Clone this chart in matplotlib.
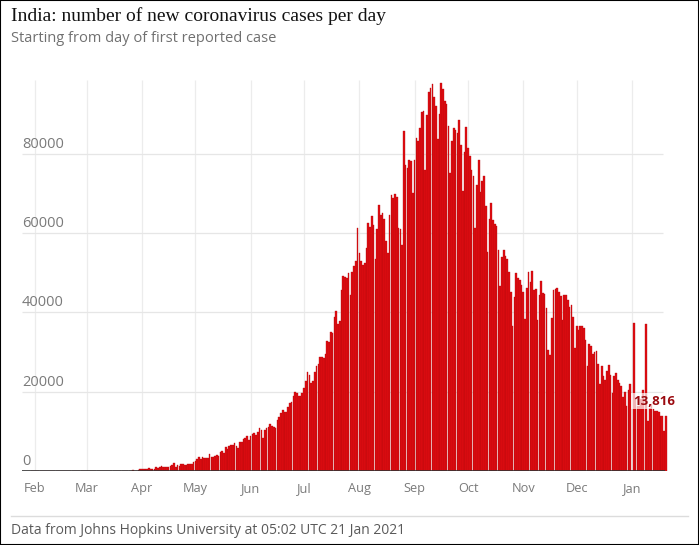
import matplotlib
matplotlib.use("Agg")
import matplotlib.pyplot as plt
import matplotlib.dates as mdates
import numpy as np
import pandas as pd
from matplotlib.lines import Line2D
from matplotlib.patches import Rectangle

# Daily new cases, India (JHU), 30 Jan 2020 - 20 Jan 2021
jan_2020 = [1, 0]
feb_2020 = [0, 1, 1, 0, 0, 0, 0, 0, 0, 0, 0, 0, 0, 0, 0, 0, 0, 0, 0, 0,
            0, 0, 0, 0, 0, 0, 0, 0, 0]
mar_2020 = [0, 2, 0, 23, 2, 1, 3, 5, 4, 6, 6, 11, 9, 20, 11, 6, 23, 14, 38, 50,
            86, 66, 103, 37, 121, 70, 160, 100, 78, 224, 601]
apr_2020 = [545, 478, 525, 505, 704, 508, 485, 591, 896, 768, 918, 1207, 1043, 1035, 1076,
            1007, 1334, 1553, 1893, 924, 1541, 1290, 1707, 1835, 1607, 1561, 1873, 1738, 1801, 2396]
may_2020 = [2564, 2952, 3656, 2971, 3602, 3344, 3339, 3175, 4311, 3592, 3562, 3726, 3991, 3808, 4794,
            5049, 4630, 6147, 5553, 6198, 6568, 6629, 7111, 6414, 5843, 7293, 7300, 8105, 8336, 8782, 7761]
jun_2020 = [8800, 9300, 9700, 9100, 9900, 10800, 10300, 8400, 10300, 10800, 11200, 11900, 11400, 11200, 10800,
            12900, 13700, 14700, 15400, 15000, 15000, 16200, 17100, 17500, 18800, 20000, 19600, 18800, 18900, 19600]
jul_2020 = [20903, 22771, 24850, 24248, 22252, 22752, 24879, 26506, 27114, 28637, 28701, 28498, 29429, 32695, 32607,
            34956, 34884, 38902, 40425, 37148, 37724, 45720, 49310, 48916, 48661, 49931, 44400, 50300, 51600, 52900, 61300]
aug_2020 = [55000, 53100, 52000, 52500, 56300, 62500, 61500, 64400, 62100, 53600, 61000, 67000, 64600, 65000, 63500,
            58000, 55100, 64500, 69700, 68900, 69900, 69200, 61400, 61000, 57100, 85700, 77300, 76400, 78500, 78300, 70100]
sep_2020 = [78357, 83883, 83341, 86432, 90632, 90802, 75809, 89706, 95735, 96551, 97570, 94372, 92071, 83809, 90123,
            97894, 96424, 93337, 92605, 86961, 75083, 83347, 86508, 86052, 85362, 88600, 82170, 70589, 80472, 86821]
oct_2020 = [81484, 79476, 75829, 74442, 61267, 72049, 78524, 70496, 73272, 74383, 66732, 55342, 63509, 67708, 63371,
            62212, 61871, 55722, 46790, 54044, 55839, 54350, 53370, 50129, 45148, 36470, 43893, 49881, 48648, 48268, 46963]
nov_2020 = [45231, 38310, 46253, 50210, 47638, 50357, 45674, 45903, 38073, 44281, 47905, 44879, 44684, 41100, 30548,
            29163, 38617, 45576, 45882, 46232, 45209, 44059, 37975, 44376, 44489, 43082, 41322, 41810, 38772, 31118]
dec_2020 = [36604, 35551, 36594, 36652, 36011, 32981, 26567, 32080, 31522, 29398, 30006, 30254, 27071, 22065, 26382,
            24010, 22890, 25152, 26624, 24337, 19556, 23950, 24712, 23067, 22272, 21500, 18732, 20021, 16432, 20549, 21822]
jan_2021 = [0, 37300, 18177, 16505, 16375, 18088, 20346, 0, 37200, 12584, 15968, 16946, 15590, 15158, 15144,
            14800, 13900, 13788, 10064, 13816]

cases = (jan_2020 + feb_2020 + mar_2020 + apr_2020 + may_2020 + jun_2020 + jul_2020 +
         aug_2020 + sep_2020 + oct_2020 + nov_2020 + dec_2020 + jan_2021)
dates = pd.date_range("2020-01-30", periods=len(cases), freq="D")

month_labels = ["Feb", "Mar", "Apr", "May", "Jun", "Jul", "Aug", "Sep", "Oct", "Nov", "Dec", "Jan"]
month_starts = pd.date_range("2020-02-01", periods=12, freq="MS")
y_ticks = [0, 20000, 40000, 60000, 80000]

W, H = 699, 545
fig = plt.figure(figsize=(W / 100, H / 100), dpi=100)
ax = fig.add_axes([22 / W, (H - 471) / H, (668 - 22) / W, (471 - 80) / H])

feb1 = mdates.date2num(pd.Timestamp("2020-02-01"))
px_day = 597 / 335.0
x_left = feb1 - 13 / px_day
x_right = feb1 + 633 / px_day
x_grid_end = feb1 + 628 / px_day
y_top = 391.5 / 3.969 * 1000

ax.bar(dates, cases, width=0.92, color="#e00c12", edgecolor="#b30a0c", linewidth=0.25, zorder=2)

ax.vlines(month_starts, 0, y_top, color="#ececec", lw=0.9, zorder=0)
ax.hlines(y_ticks[1:], x_left, x_grid_end, color="#e6e6e6", lw=0.9, zorder=0)
ax.hlines(0, x_left, x_grid_end + 1, color="#333333", lw=1.2, zorder=3)

for v in y_ticks:
    ax.annotate(str(v), xy=(x_left, v), xytext=(0, 6), textcoords="offset pixels",
                ha="left", va="baseline", color="#7a7a7a", fontsize=10.5, family="Open Sans")

ax.set_xlim(x_left, x_right)
ax.set_ylim(0, y_top)
ax.set_xticks(month_starts)
ax.set_xticklabels(month_labels, color="#7a7a7a", fontsize=9.2, family="Open Sans")
ax.tick_params(axis="x", length=0, pad=8)
ax.set_yticks([])
for s in ax.spines.values():
    s.set_visible(False)
ax.patch.set_alpha(0)

# label for the latest value
ax.annotate(f"{cases[-1]:,}", xy=(dates[-1], cases[-1]), xytext=(-12, 15), textcoords="offset pixels",
            ha="center", va="center", color="#9b0a0f", fontsize=9.5, fontweight="bold", family="Open Sans",
            bbox=dict(boxstyle="square,pad=0.12", facecolor="white", edgecolor="none", alpha=0.7), zorder=5)

fig.text(11 / W, 1 - 16 / H, "India: number of new coronavirus cases per day",
         ha="left", va="center", fontsize=14, family="Liberation Serif", color="#121212")
fig.text(11 / W, 1 - 38 / H, "Starting from day of first reported case",
         ha="left", va="center", fontsize=10.5, family="Open Sans", color="#707070")

fig.add_artist(Line2D([11 / W, 688 / W], [1 - 516 / H, 1 - 516 / H], color="#dcdcdc", lw=1))
fig.text(11 / W, 1 - 531 / H, "Data from Johns Hopkins University at 05:02 UTC 21 Jan 2021",
         ha="left", va="center", fontsize=10, family="Open Sans", color="#5a5a5a")

fig.add_artist(Rectangle((0, 0), 1, 1, transform=fig.transFigure, fill=False, edgecolor="black", lw=1.5))

fig.savefig("out.png", dpi=100)
